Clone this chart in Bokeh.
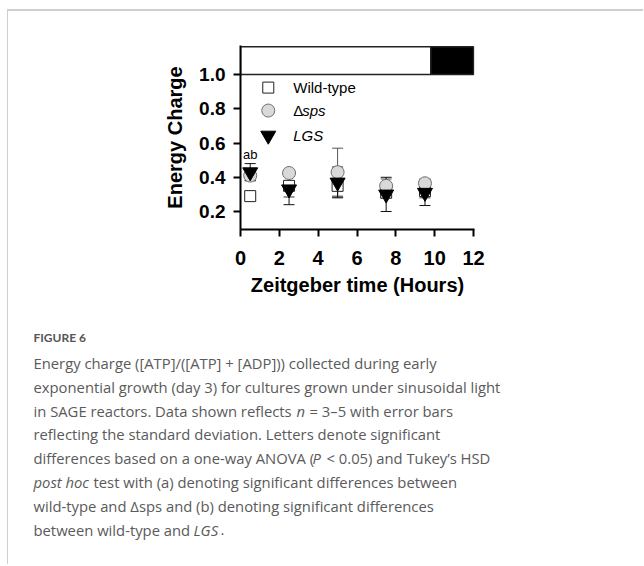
from bokeh.plotting import figure
from bokeh.layouts import row, column
from bokeh.models import ColumnDataSource, Whisker, TeeHead, FixedTicker, Spacer, Range1d
from bokeh.core.properties import value
from bokeh.embed import file_html
from bokeh.resources import INLINE

# ---------------- data ----------------
time_h = [0.5, 2.5, 5.0, 7.5, 9.5]
wt_mean = [0.29, 0.35, 0.35, 0.31, 0.32]
wt_sd = [0.01, 0.065, 0.065, 0.03, 0.04]
sps_mean = [0.41, 0.425, 0.43, 0.35, 0.365]
sps_sd = [0.03, 0.02, 0.14, 0.04, 0.025]
lgs_mean = [0.43, 0.33, 0.37, 0.30, 0.31]
lgs_sd = [0.05, 0.09, 0.09, 0.10, 0.075]
sig_letters = ["ab", "", "", "", ""]

light_left = [0.0, 9.8]
light_right = [9.8, 12.0]
light_color = ["white", "black"]

x_ticks = [0, 2, 4, 6, 8, 10, 12]
y_ticks = [0.2, 0.4, 0.6, 0.8, 1.0]
y_tick_labels = ["0.2", "0.4", "0.6", "0.8", "1.0"]

legend_labels = ["Wild-type", "\u0394", "LGS"]
legend_suffix = ["", "sps", ""]

caption_title = "FIGURE 6"
caption_lines = [
    [("Energy charge ([ATP]/([ATP] + [ADP])) collected during early", "normal", 33)],
    [("exponential growth (day 3) for cultures grown under sinusoidal light", "normal", 33)],
    [("in SAGE reactors. Data shown reflects", "normal", 33), ("n", "italic", 296),
     ("= 3\u20135 with error bars", "normal", 309)],
    [("reflecting the standard deviation. Letters denote significant", "normal", 33)],
    [("differences based on a one-way ANOVA (", "normal", 33), ("P", "italic", 312),
     ("< 0.05) and Tukey\u2019s HSD", "normal", 326)],
    [("post hoc", "italic", 33), ("test with (a) denoting significant differences between", "normal", 93)],
    [("wild-type and \u0394sps and (b) denoting significant differences", "normal", 33)],
    [("between wild-type and", "normal", 33), ("LGS", "italic", 193), (".", "normal", 220)],
]

# ---------------- chart ----------------
W = 636
CHART_H = 289
CAP_H = 266
BORDER = "#cfcfcf"

p = figure(width=W, height=CHART_H, output_backend="svg", toolbar_location=None,
           x_range=(0, 12.05), y_range=(0.095, 1.17),
           min_border_left=232, min_border_right=W - 466,
           min_border_top=34, min_border_bottom=CHART_H - 34 - 184)
p.styles = {"border-left": f"1px solid {BORDER}", "border-top": f"2px solid {BORDER}"}
p.outline_line_color = None
p.grid.visible = False

for ax in (p.xaxis[0], p.yaxis[0]):
    ax.axis_line_width = 2
    ax.major_tick_line_width = 2
    ax.major_tick_in = 0
    ax.major_tick_out = 7
    ax.minor_tick_line_color = None
    ax.major_label_text_font = "Liberation Sans"
    ax.major_label_text_font_style = "bold"
    ax.major_label_text_color = "black"
    ax.axis_label_text_font = "Liberation Sans"
    ax.axis_label_text_font_style = "bold"
    ax.axis_label_text_font_size = "20px"
    ax.axis_label_text_color = "black"

p.xaxis.major_label_text_font_size = "20px"
p.yaxis.major_label_text_font_size = "19px"
p.xaxis.ticker = FixedTicker(ticks=x_ticks)
p.yaxis.ticker = FixedTicker(ticks=y_ticks)
p.yaxis.major_label_overrides = {t: l for t, l in zip(y_ticks, y_tick_labels)}
p.xaxis.axis_label = "Zeitgeber time (Hours)"
p.yaxis.axis_label = "Energy Charge"
p.xaxis.major_label_standoff = 14
p.yaxis.major_label_standoff = 8
p.xaxis.axis_label_standoff = 6
p.yaxis.axis_label_standoff = 10

# light / dark bar
p.quad(left=light_left, right=light_right, bottom=1.0, top=1.163,
       fill_color=light_color, line_color="#222222", line_width=1.5)

src = ColumnDataSource(dict(
    t=time_h,
    wt=wt_mean, wt_lo=[m - s for m, s in zip(wt_mean, wt_sd)], wt_hi=[m + s for m, s in zip(wt_mean, wt_sd)],
    sps=sps_mean, sps_lo=[m - s for m, s in zip(sps_mean, sps_sd)], sps_hi=[m + s for m, s in zip(sps_mean, sps_sd)],
    lgs=lgs_mean, lgs_lo=[m - s for m, s in zip(lgs_mean, lgs_sd)], lgs_hi=[m + s for m, s in zip(lgs_mean, lgs_sd)],
    letters=sig_letters,
))

for key, col in (("wt", "#333333"), ("sps", "#555555"), ("lgs", "#111111")):
    w = Whisker(source=src, base="t", lower=f"{key}_lo", upper=f"{key}_hi", dimension="height",
                line_color=col, line_width=1,
                upper_head=TeeHead(size=11, line_color=col, line_width=1),
                lower_head=TeeHead(size=11, line_color=col, line_width=1))
    p.add_layout(w)

p.scatter("t", "wt", source=src, marker="square", size=11, fill_color="white",
          line_color="#222222", line_width=1)
p.scatter("t", "sps", source=src, marker="circle", size=13, fill_color="#d9d9d9",
          line_color="#707070", line_width=1)
p.scatter("t", "lgs", source=src, marker="inverted_triangle", size=15, fill_color="black",
          line_color="black", line_width=1)

p.text("t", "lgs_hi", text="letters", source=src, text_font=value("Liberation Sans"),
       text_font_size="13px", text_align="center", text_baseline="bottom", y_offset=-2,
       text_color="black")

# legend (manual, to allow mixed italic)
leg_x = [1.43, 1.43, 1.43]
leg_y = [0.924, 0.79, 0.644]
p.scatter(leg_x[0:1], leg_y[0:1], marker="square", size=11, fill_color="white",
          line_color="#222222", line_width=1)
p.scatter(leg_x[1:2], leg_y[1:2], marker="circle", size=13, fill_color="#d9d9d9",
          line_color="#707070", line_width=1)
p.scatter(leg_x[2:3], leg_y[2:3], marker="inverted_triangle", size=15, fill_color="black",
          line_color="black", line_width=1)
p.text(leg_x[0:2], leg_y[0:2], text=legend_labels[0:2], text_font=value("Liberation Sans"),
       text_font_size="15px", text_baseline="middle", x_offset=25, text_color="black")
p.text(leg_x[1:2], leg_y[1:2], text=legend_suffix[1:2], text_font=value("Liberation Sans"),
       text_font_style="italic", text_font_size="15px", text_baseline="middle", x_offset=34,
       text_color="black")
p.text(leg_x[2:3], leg_y[2:3], text=legend_labels[2:3], text_font=value("Liberation Sans"),
       text_font_style="italic", text_font_size="15px", text_baseline="middle", x_offset=25,
       text_color="black")

# ---------------- caption panel (separate root; coordinates = page pixels) ----------------
CAP_TOP = 9 + 2 + CHART_H
c = figure(width=W, height=CAP_H, output_backend="svg", toolbar_location=None,
           x_range=Range1d(8, 8 + W), y_range=Range1d(CAP_TOP + CAP_H, CAP_TOP),
           x_axis_type=None, y_axis_type=None,
           min_border=0, min_border_left=0, min_border_right=0, min_border_top=0, min_border_bottom=0)
c.styles = {"border-left": f"1px solid {BORDER}"}
c.outline_line_color = None
c.grid.visible = False

CAP_COLOR = "#5a5a5a"
c.text([33], [338.5], text=[caption_title], text_font=value("Lato"), text_font_style="bold",
       text_font_size="12px", text_color="#555555", text_baseline="middle")
for style in ("normal", "italic"):
    xs, ys, ts = [], [], []
    for i, segs in enumerate(caption_lines):
        yc = 364.5 + 23.8 * i
        for txt, st, xpage in segs:
            if st == style:
                xs.append(xpage)
                ys.append(yc)
                ts.append(txt)
    c.text(xs, ys, text=ts, text_font=value("Open Sans"), text_font_style=style,
           text_font_size="14.8px", text_color=CAP_COLOR, text_baseline="middle")

top_root = row(Spacer(width=7), column(Spacer(height=9), p))
bottom_root = row(Spacer(width=7), c)
open("out.html", "w").write(file_html([top_root, bottom_root], INLINE))
